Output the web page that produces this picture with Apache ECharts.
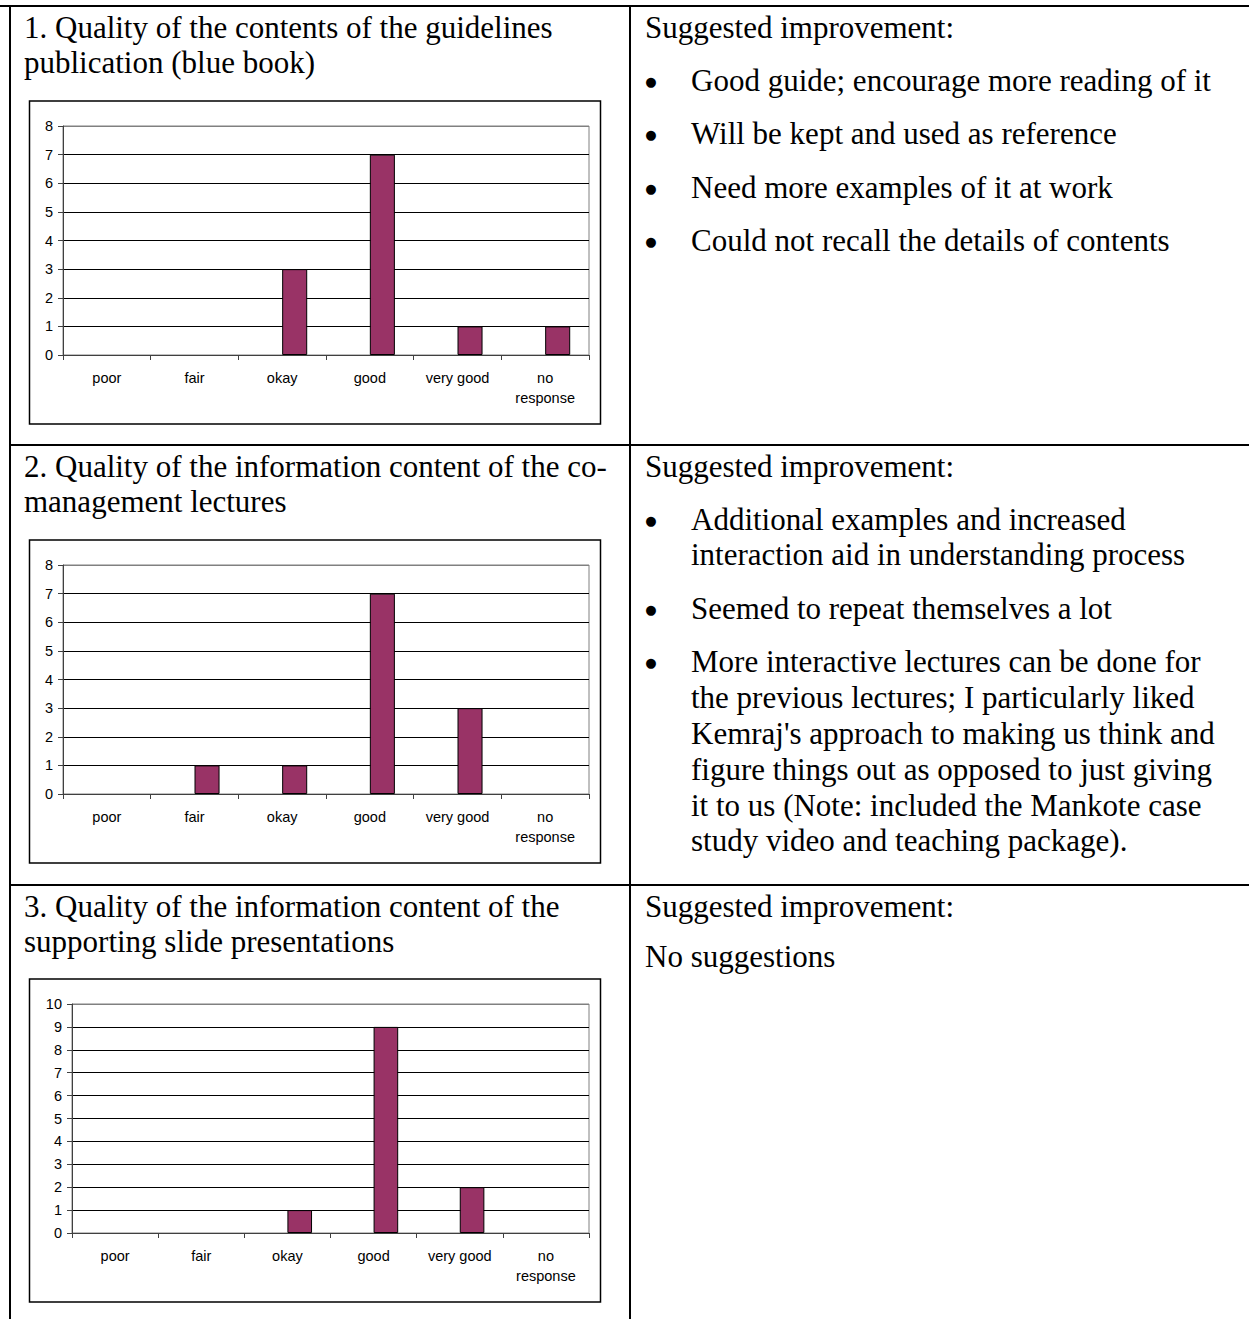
<!DOCTYPE html>
<html>
<head>
<meta charset="utf-8">
<script src="https://cdn.jsdelivr.net/npm/echarts@6/dist/echarts.min.js"></script>
<style>
html,body{margin:0;padding:0;background:#fff;}
#c{width:1249px;height:1319px;}
</style>
</head>
<body>
<div id="c"></div>
<script>
// ---- data ----
const categories = ['poor', 'fair', 'okay', 'good', 'very good', 'no response'];
const q1Values = [0, 0, 3, 7, 1, 1];
const q2Values = [0, 1, 1, 7, 3, 0];
const q3Values = [0, 0, 1, 9, 2, 0];
const emptySeries = [null, null, null, null, null, null];
const yMax = [8, 8, 10];

const leftTitles = [
  ['1. Quality of the contents of the guidelines', 'publication (blue book)'],
  ['2. Quality of the information content of the co-', 'management lectures'],
  ['3. Quality of the information content of the', 'supporting slide presentations']
];
const rightHeading = 'Suggested improvement:';
const q1Suggestions = [
  ['Good guide; encourage more reading of it'],
  ['Will be kept and used as reference'],
  ['Need more examples of it at work'],
  ['Could not recall the details of contents']
];
const q2Suggestions = [
  ['Additional examples and increased', 'interaction aid in understanding process'],
  ['Seemed to repeat themselves a lot'],
  ['More interactive lectures can be done for', 'the previous lectures; I particularly liked',
   "Kemraj's approach to making us think and", 'figure things out as opposed to just giving',
   'it to us (Note: included the Mankote case', 'study video and teaching package).']
];
const q3Text = 'No suggestions';

// ---- layout ----
const rowTop = [6, 445, 885];
const serif = '"Liberation Serif", "Times New Roman", serif';
const sans = '"Liberation Sans", Arial, sans-serif';
const serifFont = '31px ' + serif;

const graphics = [];
function line(x1, y1, x2, y2, w, c) {
  graphics.push({type: 'line', shape: {x1, y1, x2, y2}, style: {stroke: c || '#000', lineWidth: w || 2}, silent: true, z: 10});
}
function text(t, x, y, font, align) {
  graphics.push({type: 'text', x: x, y: y, style: {text: t, font: font || serifFont, fill: '#000', textVerticalAlign: 'middle', textAlign: align || 'left'}, silent: true});
}
// table borders
line(0, 6, 1249, 6);
line(10, 5, 10, 1319);
line(630, 5, 630, 1319);
line(10, 445, 1249, 445);
line(10, 885, 1249, 885);

// left titles
leftTitles.forEach((lines, i) => {
  lines.forEach((l, j) => text(l, 24, rowTop[i] + 21 + j * 35.3));
});
// right headings
rowTop.forEach(t => text(rightHeading, 645, t + 21));
function bullets(items, top) {
  let y = top + 74;
  items.forEach(lines => {
    text('\u25CF', 651, y + 1, '13px "DejaVu Sans", sans-serif', 'center');
    lines.forEach((l, j) => { text(l, 691, y); y += (j < lines.length - 1) ? 35.8 : 0; });
    y += 53.5;
  });
}
bullets(q1Suggestions, rowTop[0]);
bullets(q2Suggestions, rowTop[1]);
text(q3Text, 645, rowTop[2] + 71);

// chart frames
const frameTop = [101, 540, 979];
frameTop.forEach(t => {
  graphics.push({type: 'rect', shape: {x: 29.5, y: t, width: 571, height: 323}, style: {fill: 'none', stroke: '#000', lineWidth: 1.5}, silent: true, z: 5});
});

const gridTop = [126, 565, 1004];
const gridLeft = [63, 63, 72];
const valueSets = [q1Values, q2Values, q3Values];

const grids = [], xAxes = [], yAxes = [], series = [];
for (let i = 0; i < 3; i++) {
  grids.push({left: gridLeft[i], width: 589 - gridLeft[i], top: gridTop[i], height: 229, show: true, borderColor: '#808080', borderWidth: 1, backgroundColor: 'transparent'});
  xAxes.push({
    type: 'category', gridIndex: i, data: categories,
    axisLine: {lineStyle: {color: '#404040', width: 1}},
    axisTick: {show: true, length: 5, lineStyle: {color: '#404040'}},
    axisLabel: {color: '#000', fontFamily: sans, fontSize: 14.5, margin: 13, lineHeight: 20, interval: 0,
      formatter: v => v.replace(' response', '\nresponse')},
    splitLine: {show: false}
  });
  const n = yMax[i] + 1;
  const cols = [];
  for (let k = 0; k < n; k++) cols.push(k === n - 1 ? '#808080' : '#000');
  yAxes.push({
    type: 'value', gridIndex: i, min: 0, max: yMax[i], interval: 1,
    axisLine: {show: true, lineStyle: {color: '#404040', width: 1}},
    axisTick: {show: true, length: 5, lineStyle: {color: '#404040'}},
    axisLabel: {color: '#000', fontFamily: sans, fontSize: 14.5, margin: 10},
    splitLine: {show: true, lineStyle: {color: cols, width: 1}}
  });
  series.push({type: 'bar', xAxisIndex: i, yAxisIndex: i, data: emptySeries, barGap: '0%', barCategoryGap: '42.86%', silent: true});
  // zero counts are not drawn as bars (no visible mark in the original)
  series.push({type: 'bar', xAxisIndex: i, yAxisIndex: i, data: valueSets[i].map(v => v === 0 ? '-' : v), barGap: '0%', barCategoryGap: '42.86%', silent: true,
    itemStyle: {color: '#993366', borderColor: '#000', borderWidth: 1}});
}

const chart = echarts.init(document.getElementById('c'), null, {renderer: 'svg', width: 1249, height: 1319});
chart.setOption({
  animation: false,
  backgroundColor: '#fff',
  grid: grids, xAxis: xAxes, yAxis: yAxes, series: series,
  graphic: graphics
});
</script>
</body>
</html>
